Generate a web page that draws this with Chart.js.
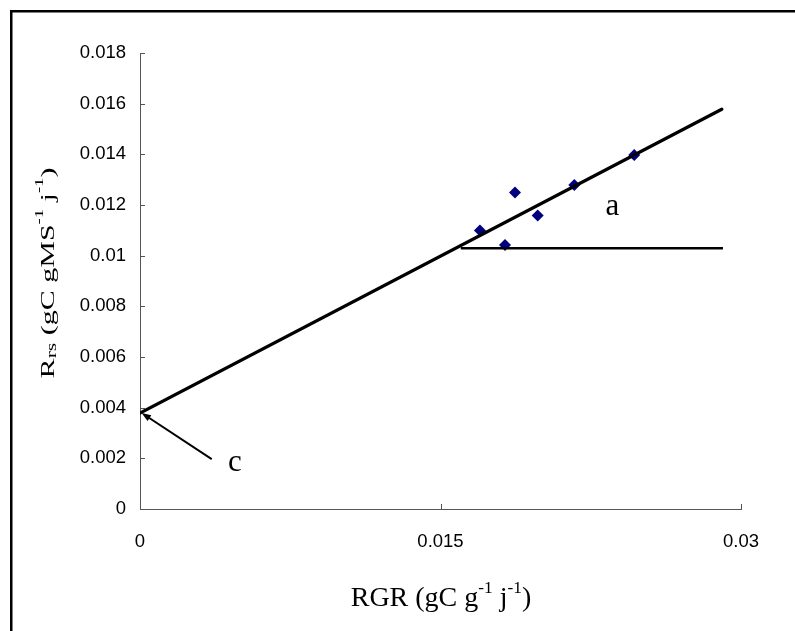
<!DOCTYPE html>
<html lang="fr">
<head>
  <meta charset="UTF-8">
  <title>Rrs vs RGR</title>
  <script src="https://cdn.jsdelivr.net/npm/chart.js"></script>
  <style>
    html, body { margin: 0; padding: 0; background: #fff; }
    #wrap { width: 795px; height: 631px; position: relative; }
  </style>
</head>
<body>
  <div id="wrap"><canvas id="chart"></canvas></div>

  <script>
    // measured points (RGR, Rrs)
    const rgr = [0.01697, 0.01822, 0.01872, 0.01985, 0.02168, 0.02467];
    const rrs = [0.01099, 0.01042, 0.01249, 0.01159, 0.01279, 0.01397];

    // fitted line, end points
    const fitX = [0, 0.02904];
    const fitY = [0.00379, 0.01578];

    // horizontal reference segment
    const flatX = [0.01601, 0.0291];
    const flatY = [0.01029, 0.01029];

    // tick values
    const xTicks = [0, 0.015, 0.03];
    const yTicks = [0, 0.002, 0.004, 0.006, 0.008, 0.01, 0.012, 0.014, 0.016, 0.018];

    // annotations (data coordinates)
    const arrowFrom = [0.00358, 0.00197];
    const arrowTo = [0.00008, 0.00379];
    const noteText = ['a', 'c'];
    const noteX = [0.02358, 0.00474];
    const noteY = [0.0118, 0.0017];

    const toPts = (xs, ys) => xs.map((x, i) => ({ x: x, y: ys[i] }));

    const serif = "'Liberation Serif', 'Times New Roman', serif";

    // text with sub/superscripts, left aligned at (x, y) baseline
    function richWidth(ctx, parts, size) {
      let w = 0;
      for (const p of parts) {
        ctx.font = (p.s ? size * p.k : size) + 'px ' + serif;
        w += ctx.measureText(p.t).width;
      }
      return w;
    }
    function drawRich(ctx, parts, x, y, size) {
      for (const p of parts) {
        const fs = p.s ? size * p.k : size;
        ctx.font = fs + 'px ' + serif;
        ctx.fillText(p.t, x, y - (p.s || 0) * size);
        x += ctx.measureText(p.t).width;
      }
    }

    const xTitle = [
      { t: 'RGR (gC g' }, { t: '-1', s: 0.45, k: 0.62 },
      { t: ' j' }, { t: '-1', s: 0.45, k: 0.62 }, { t: ')' }
    ];
    const yTitle = [
      { t: 'R' }, { t: 'rs', s: -0.08, k: 0.72 }, { t: ' (gC gMS' },
      { t: '-1', s: 0.55, k: 0.62 }, { t: ' j' }, { t: '-1', s: 0.55, k: 0.62 }, { t: ')' }
    ];

    const extras = {
      id: 'extras',
      beforeDraw(chart) {
        const ctx = chart.ctx;
        ctx.save();
        ctx.fillStyle = '#fff';
        ctx.fillRect(0, 0, chart.width, chart.height);
        ctx.fillStyle = '#000';
        ctx.fillRect(10, 10, chart.width - 10, 2.5);
        ctx.fillRect(10, 10, 2.5, chart.height - 10);
        ctx.restore();
      },
      afterDraw(chart) {
        const ctx = chart.ctx;
        const xs = chart.scales.x, ys = chart.scales.y;
        const area = chart.chartArea;
        ctx.save();

        // inside tick marks
        ctx.strokeStyle = '#555';
        ctx.lineWidth = 1;
        ctx.beginPath();
        xTicks.forEach(v => {
          const px = Math.round(xs.getPixelForValue(v)) + 0.5;
          ctx.moveTo(px, area.bottom);
          ctx.lineTo(px, area.bottom - 5);
        });
        yTicks.forEach(v => {
          const py = Math.round(ys.getPixelForValue(v)) + 0.5;
          ctx.moveTo(area.left, py);
          ctx.lineTo(area.left + 5, py);
        });
        ctx.stroke();

        // arrow to intercept
        const ax0 = xs.getPixelForValue(arrowFrom[0]), ay0 = ys.getPixelForValue(arrowFrom[1]);
        const ax1 = xs.getPixelForValue(arrowTo[0]), ay1 = ys.getPixelForValue(arrowTo[1]);
        const ang = Math.atan2(ay1 - ay0, ax1 - ax0);
        ctx.strokeStyle = '#000';
        ctx.fillStyle = '#000';
        ctx.lineWidth = 2;
        ctx.beginPath();
        ctx.moveTo(ax0, ay0);
        ctx.lineTo(ax1 - 6 * Math.cos(ang), ay1 - 6 * Math.sin(ang));
        ctx.stroke();
        ctx.beginPath();
        ctx.moveTo(ax1, ay1);
        ctx.lineTo(ax1 - 10 * Math.cos(ang - 0.35), ay1 - 10 * Math.sin(ang - 0.35));
        ctx.lineTo(ax1 - 10 * Math.cos(ang + 0.35), ay1 - 10 * Math.sin(ang + 0.35));
        ctx.closePath();
        ctx.fill();

        // letters a and c
        ctx.font = '31px ' + serif;
        ctx.textAlign = 'center';
        ctx.textBaseline = 'middle';
        noteText.forEach((t, i) => {
          ctx.fillText(t, xs.getPixelForValue(noteX[i]), ys.getPixelForValue(noteY[i]) - 3);
        });

        // axis titles
        ctx.textAlign = 'left';
        ctx.textBaseline = 'alphabetic';
        const wx = richWidth(ctx, xTitle, 28);
        drawRich(ctx, xTitle, 441 - wx / 2, 606, 28);

        ctx.translate(54, 273);
        ctx.rotate(-Math.PI / 2);
        ctx.scale(1, 0.66);
        const wy = richWidth(ctx, yTitle, 30);
        drawRich(ctx, yTitle, -wy / 2, 0, 30);

        ctx.restore();
      }
    };

    const tickFmt = v => String(+Number(v).toFixed(4));

    new Chart(document.getElementById('chart'), {
      type: 'scatter',
      data: {
        datasets: [
          {
            label: 'fit',
            data: toPts(fitX, fitY),
            showLine: true,
            borderColor: '#000',
            borderWidth: 3.2,
            pointRadius: 0,
            borderCapStyle: 'round'
          },
          {
            label: 'flat',
            data: toPts(flatX, flatY),
            showLine: true,
            borderColor: '#000',
            borderWidth: 2.6,
            pointRadius: 0
          },
          {
            label: 'Rrs',
            data: toPts(rgr, rrs),
            pointStyle: 'rectRot',
            pointRadius: 6,
            backgroundColor: '#000080',
            borderColor: '#000080',
            borderWidth: 0
          }
        ]
      },
      options: {
        responsive: true,
        maintainAspectRatio: false,
        animation: false,
        layout: { padding: { left: 0, right: 54, top: 53, bottom: 0 } },
        plugins: { legend: { display: false }, tooltip: { enabled: false } },
        scales: {
          x: {
            type: 'linear',
            min: 0, max: 0.03,
            afterBuildTicks: s => { s.ticks = xTicks.map(v => ({ value: v })); },
            afterFit: s => { s.height = 122; },
            grid: { display: false, drawTicks: false },
            border: { display: true, color: '#555', width: 1 },
            ticks: {
              callback: tickFmt,
              color: '#000',
              padding: 22,
              maxRotation: 0,
              font: { family: "'Liberation Sans', Arial, sans-serif", size: 18.5 }
            }
          },
          y: {
            type: 'linear',
            min: 0, max: 0.018,
            afterBuildTicks: s => { s.ticks = yTicks.map(v => ({ value: v })); },
            afterFit: s => { s.width = 140; },
            grid: { display: false, drawTicks: false },
            border: { display: true, color: '#555', width: 1 },
            ticks: {
              callback: tickFmt,
              color: '#000',
              padding: 14,
              font: { family: "'Liberation Sans', Arial, sans-serif", size: 18.5 }
            }
          }
        }
      },
      plugins: [extras]
    });
  </script>
</body>
</html>
